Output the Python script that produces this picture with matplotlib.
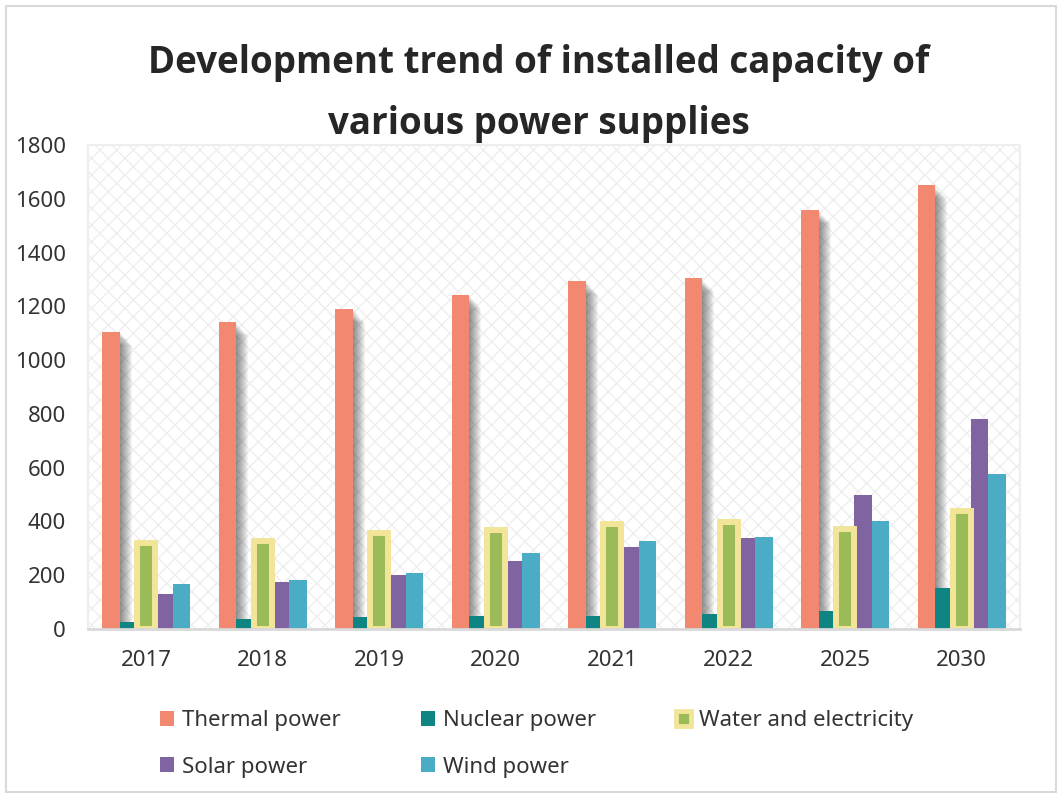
import matplotlib.pyplot as plt
import numpy as np
from matplotlib.patches import Rectangle

plt.rcParams['font.family'] = ['Noto Sans', 'DejaVu Sans']
plt.rcParams['hatch.linewidth'] = 0.9

# data
years = ["2017", "2018", "2019", "2020", "2021", "2022", "2025", "2030"]
thermal = [1105, 1141, 1190, 1243, 1294, 1304, 1557, 1650]
nuclear = [26, 36, 45, 50, 50, 55, 68, 151]
water = [320, 329, 356, 370, 389, 398, 371, 440]
solar = [129, 175, 202, 254, 305, 337, 497, 780]
wind = [166, 183, 207, 281, 326, 341, 402, 578]

names = ["Thermal power", "Nuclear power", "Water and electricity", "Solar power", "Wind power"]
c_thermal = "#f28870"
c_nuclear = "#0e8582"
c_water = "#9bbb59"
c_water_edge = "#f2e59a"
c_solar = "#8064a2"
c_wind = "#4bacc6"

fig = plt.figure(figsize=(10.62, 7.96), dpi=100)
ax = fig.add_axes([88 / 1062, 1 - 629 / 796, (1020 - 88) / 1062, (629 - 145) / 796])

x = np.arange(len(years))
w = 0.151
px = 1 / 116.5  # one pixel in x data units

# patterned plot background
ax.add_patch(Rectangle((0, 0), 1, 1, transform=ax.transAxes, facecolor="white",
                       edgecolor="#ededed", hatch="xx", linewidth=0, zorder=0))

# soft shadow to the right of thermal bars
for k in range(1, 13):
    ax.bar(x - 2 * w + k * px, np.array(thermal) - 4 * k, w, color="black",
           alpha=0.042, linewidth=0, zorder=1)

b1 = ax.bar(x - 2 * w, thermal, w, color=c_thermal, zorder=3, label=names[0])
b2 = ax.bar(x - w, nuclear, w, color=c_nuclear, zorder=3, label=names[1])
b3 = ax.bar(x, water, w, color=c_water, edgecolor=c_water_edge, linewidth=4.3,
            zorder=4, label=names[2])
b4 = ax.bar(x + w, solar, w, color=c_solar, zorder=3, label=names[3])
b5 = ax.bar(x + 2 * w, wind, w, color=c_wind, zorder=3, label=names[4])

ax.set_xlim(-0.5, len(years) - 0.5)
ax.set_ylim(0, 1800)
ax.set_yticks(np.arange(0, 1801, 200))
ax.set_xticks(x)
ax.set_xticklabels(years)
ax.tick_params(axis="both", length=0, labelsize=16, colors="#333333")
ax.tick_params(axis="y", pad=16)
ax.tick_params(axis="x", pad=15)

for s in ["top", "right", "left"]:
    ax.spines[s].set_color("#eeeeee")
    ax.spines[s].set_linewidth(1.5)
ax.spines["bottom"].set_color("#d9d9d9")
ax.spines["bottom"].set_linewidth(2)
ax.spines["bottom"].set_zorder(5)

title_font = dict(ha="center", va="baseline", fontsize=26.5, fontweight="bold",
                  color="#262626", family=["Open Sans", "DejaVu Sans"])
fig.text(539 / 1062, 1 - 73 / 796, "Development trend of installed capacity of", **title_font)
fig.text(539 / 1062, 1 - 134 / 796, "various power supplies", **title_font)

# legend, ordered so rows read Thermal/Nuclear/Water then Solar/Wind
water_handle = Rectangle((0, 0), 1, 1, facecolor=c_water, edgecolor=c_water_edge, linewidth=3.5)
handles = [b1, b4, b2, b5, water_handle]
labels = [names[0], names[3], names[1], names[4], names[2]]
leg = fig.legend(handles, labels, ncol=3, loc="upper left",
                 bbox_to_anchor=(140 / 1062, 1 - 690 / 796), frameon=False,
                 fontsize=16, handlelength=0.65, handleheight=0.65, handletextpad=0.35,
                 columnspacing=3.6, labelspacing=1.15, labelcolor="#333333")

# light border around the whole chart
fig.add_artist(Rectangle((6 / 1062, 4 / 796), 1050 / 1062, 786 / 796, transform=fig.transFigure,
                         fill=False, edgecolor="#d9d9d9", linewidth=1.5))

fig.savefig("out.png", dpi=100)
